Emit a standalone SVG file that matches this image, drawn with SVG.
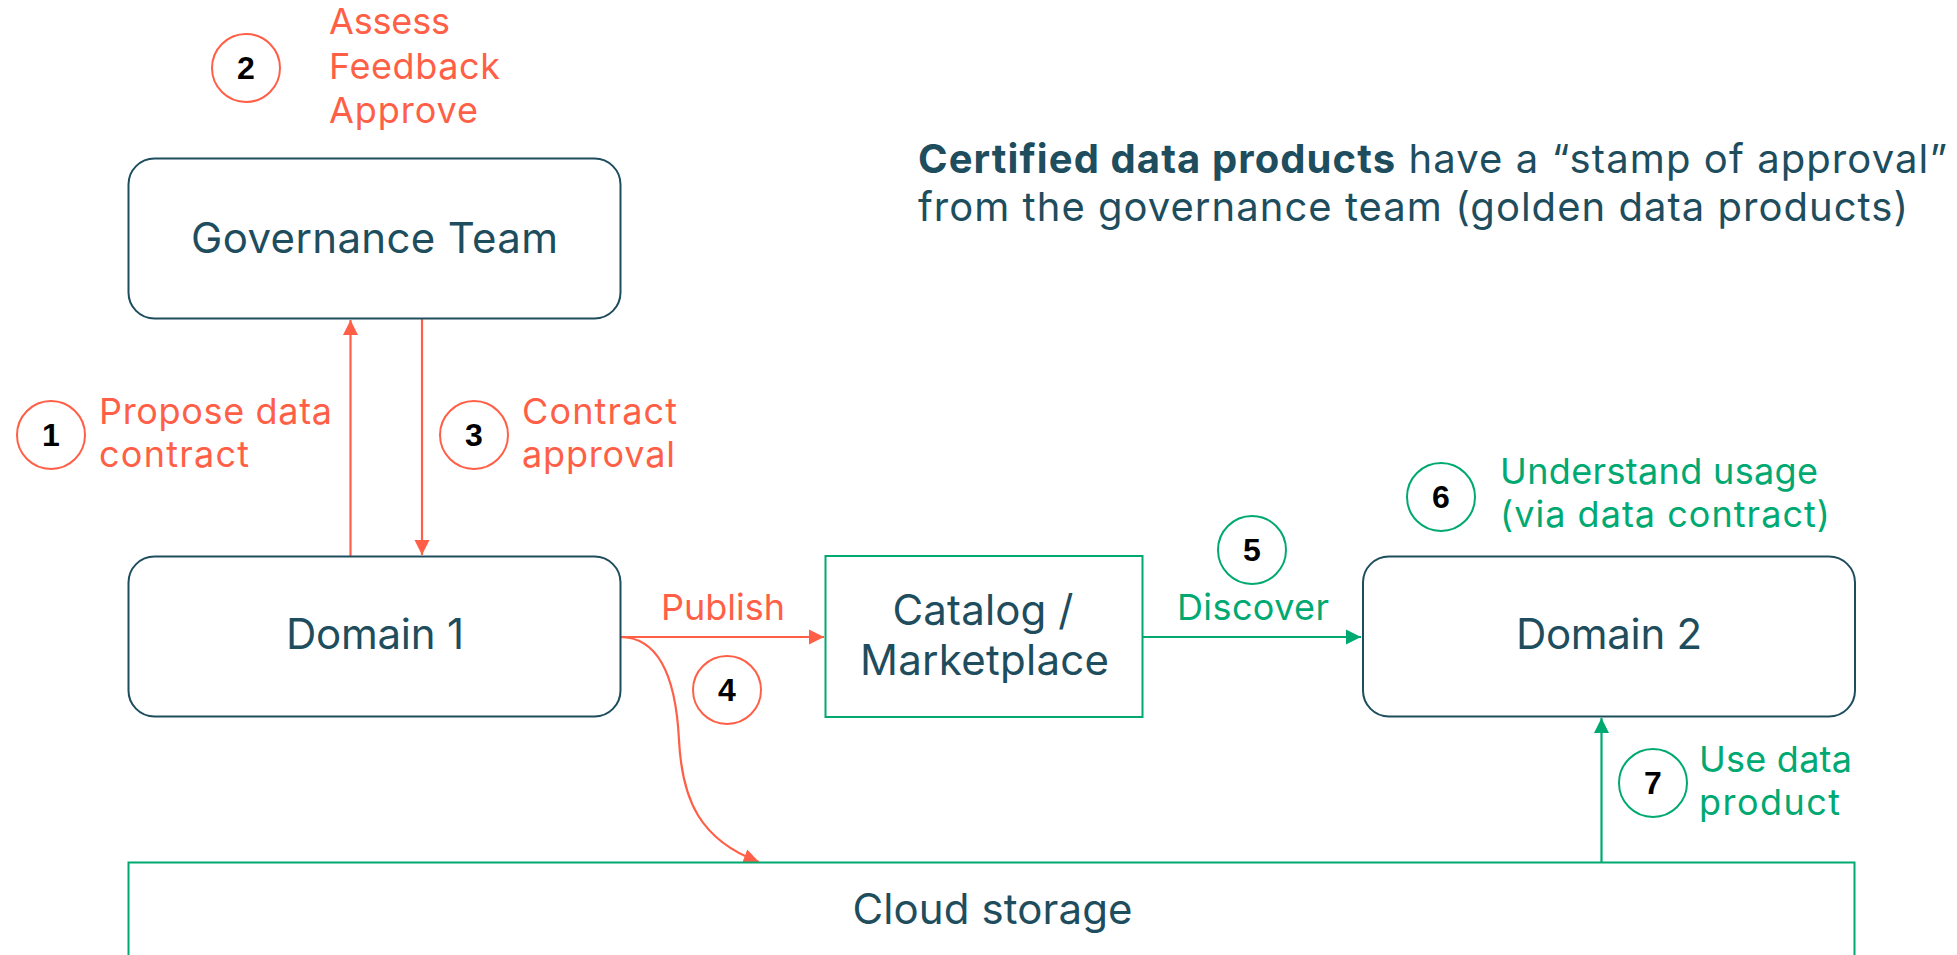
<svg xmlns="http://www.w3.org/2000/svg" width="1957" height="955" viewBox="0 0 1957 955">
  <style>
    .box { fill: #ffffff; stroke: #1E4D5E; stroke-width: 2; }
    .gbox { fill: #ffffff; stroke: #00A972; stroke-width: 2; }
    .title { font-family: Inter, "Liberation Sans", sans-serif; font-size: 42px; fill: #1E4D5E; text-anchor: middle; }
    .lbl-o { font-family: Inter, "Liberation Sans", sans-serif; font-size: 36px; fill: #FF5F46; }
    .lbl-g { font-family: Inter, "Liberation Sans", sans-serif; font-size: 36px; fill: #00A972; }
    .note { font-family: Inter, "Liberation Sans", sans-serif; font-size: 40px; fill: #1E4D5E; }
    .badge-o { fill: #ffffff; stroke: #FF5F46; stroke-width: 2; }
    .badge-g { fill: #ffffff; stroke: #00A972; stroke-width: 2; }
    .num { font-family: "Liberation Sans", Arial, sans-serif; font-weight: bold; font-size: 32px; fill: #000000; text-anchor: middle; }
    .wire-o { fill: none; stroke: #FF5F46; stroke-width: 2.2; }
    .wire-g { fill: none; stroke: #00A972; stroke-width: 2.2; }
  </style>
  <defs>
    <marker id="head-o" viewBox="0 0 10 10" refX="10" refY="5" markerWidth="7" markerHeight="7" markerUnits="strokeWidth" orient="auto">
      <path d="M0,0 L10,5 L0,10 Z" fill="#FF5F46"/>
    </marker>
    <marker id="head-g" viewBox="0 0 10 10" refX="10" refY="5" markerWidth="7" markerHeight="7" markerUnits="strokeWidth" orient="auto">
      <path d="M0,0 L10,5 L0,10 Z" fill="#00A972"/>
    </marker>
  </defs>

  <!-- connectors -->
  <g id="connectors">
    <path class="wire-o" d="M350.5,556 L350.5,320" marker-end="url(#head-o)"/>
    <path class="wire-o" d="M422,319 L422,555" marker-end="url(#head-o)"/>
    <path class="wire-o" d="M620,637 L824,637" marker-end="url(#head-o)"/>
    <path class="wire-o" d="M620,637 C660,637 676,680 679,740 C682,800 700,840 759,862" marker-end="url(#head-o)"/>
    <path class="wire-g" d="M1142,637 L1361,637" marker-end="url(#head-g)"/>
    <path class="wire-g" d="M1601.5,863 L1601.5,718" marker-end="url(#head-g)"/>
  </g>

  <!-- nodes -->
  <g id="governance-team">
    <rect class="box" x="128.5" y="158.5" width="492" height="160" rx="26"/>
    <text class="title" x="374.5" y="253" textLength="367" lengthAdjust="spacing">Governance Team</text>
  </g>

  <g id="domain-1">
    <rect class="box" x="128.5" y="556.5" width="492" height="160" rx="26"/>
    <text class="title" x="375" y="649" textLength="178" lengthAdjust="spacing">Domain 1</text>
  </g>

  <g id="catalog">
    <rect class="gbox" x="825.5" y="556" width="317" height="161"/>
    <text class="title" x="983" y="625" textLength="181" lengthAdjust="spacing">Catalog /</text>
    <text class="title" x="984.5" y="675" textLength="249" lengthAdjust="spacing">Marketplace</text>
  </g>

  <g id="domain-2">
    <rect class="box" x="1363" y="556.5" width="492" height="160" rx="26"/>
    <text class="title" x="1609" y="649" textLength="186" lengthAdjust="spacing">Domain 2</text>
  </g>

  <g id="cloud-storage">
    <rect class="gbox" x="128.5" y="862.5" width="1726" height="130"/>
    <text class="title" x="992.5" y="924" textLength="280" lengthAdjust="spacing">Cloud storage</text>
  </g>

  <!-- step badges and labels -->
  <g id="step-1">
    <circle class="badge-o" cx="51" cy="435" r="34"/>
    <text class="num" x="51" y="446">1</text>
    <text class="lbl-o" x="99" y="424" textLength="233" lengthAdjust="spacing">Propose data</text>
    <text class="lbl-o" x="99" y="467" textLength="150" lengthAdjust="spacing">contract</text>
  </g>

  <g id="step-2">
    <circle class="badge-o" cx="246" cy="68" r="34"/>
    <text class="num" x="246" y="79">2</text>
    <text class="lbl-o" x="329" y="34" textLength="121" lengthAdjust="spacing">Assess</text>
    <text class="lbl-o" x="329" y="79" textLength="171" lengthAdjust="spacing">Feedback</text>
    <text class="lbl-o" x="329" y="123" textLength="149" lengthAdjust="spacing">Approve</text>
  </g>

  <g id="step-3">
    <circle class="badge-o" cx="474" cy="435" r="34"/>
    <text class="num" x="474" y="446">3</text>
    <text class="lbl-o" x="522" y="424" textLength="155" lengthAdjust="spacing">Contract</text>
    <text class="lbl-o" x="522" y="467" textLength="153" lengthAdjust="spacing">approval</text>
  </g>

  <g id="step-4">
    <text class="lbl-o" x="661" y="620" textLength="124" lengthAdjust="spacing">Publish</text>
    <circle class="badge-o" cx="727" cy="690" r="34"/>
    <text class="num" x="727" y="701">4</text>
  </g>

  <g id="step-5">
    <circle class="badge-g" cx="1252" cy="550" r="34"/>
    <text class="num" x="1252" y="561">5</text>
    <text class="lbl-g" x="1177" y="620" textLength="152" lengthAdjust="spacing">Discover</text>
  </g>

  <g id="step-6">
    <circle class="badge-g" cx="1441" cy="497" r="34"/>
    <text class="num" x="1441" y="508">6</text>
    <text class="lbl-g" x="1500" y="484" textLength="318" lengthAdjust="spacing">Understand usage</text>
    <text class="lbl-g" x="1500" y="527" textLength="330" lengthAdjust="spacing">(via data contract)</text>
  </g>

  <g id="step-7">
    <circle class="badge-g" cx="1653" cy="783" r="34"/>
    <text class="num" x="1653" y="794">7</text>
    <text class="lbl-g" x="1699" y="772" textLength="153" lengthAdjust="spacing">Use data</text>
    <text class="lbl-g" x="1699" y="815" textLength="141" lengthAdjust="spacing">product</text>
  </g>

  <g id="note">
    <text class="note" x="918" y="173" textLength="1029" lengthAdjust="spacing"><tspan font-weight="bold">Certified data products</tspan> have a “stamp of approval”</text>
    <text class="note" x="918" y="221" textLength="990" lengthAdjust="spacing">from the governance team (golden data products)</text>
  </g>
</svg>
